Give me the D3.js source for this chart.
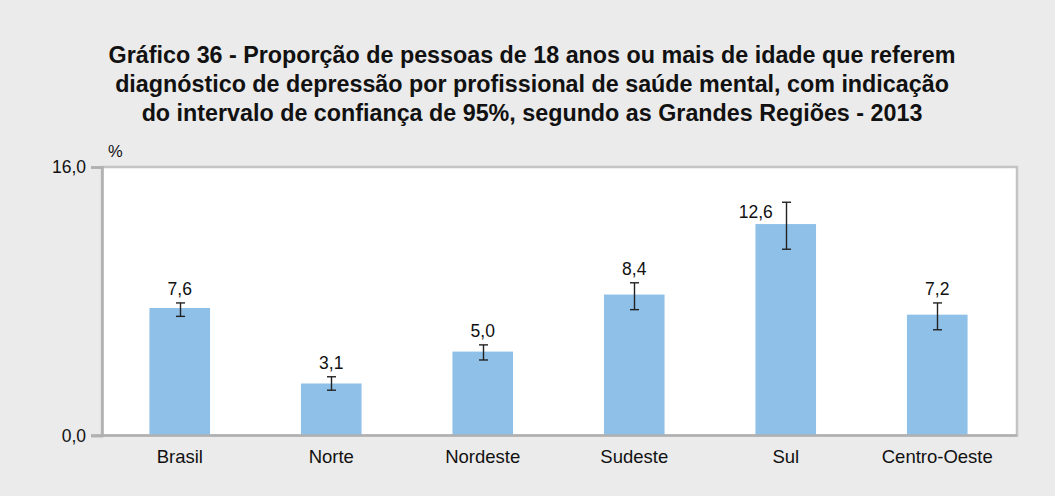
<!DOCTYPE html>
<html>
<head>
<meta charset="utf-8">
<script src="https://cdn.jsdelivr.net/npm/d3@7"></script>
<style>
  html, body { margin: 0; padding: 0; background: #ebebeb; }
  svg { display: block; }
  text { font-family: "Liberation Sans", Arial, sans-serif; fill: #111; }
</style>
</head>
<body>
<svg id="chart" width="1055" height="496"></svg>
<script>
// Regions and estimated proportions (%), with 95% confidence limits
const regions = ["Brasil", "Norte", "Nordeste", "Sudeste", "Sul", "Centro-Oeste"];
const values = [7.6, 3.1, 5.0, 8.4, 12.6, 7.2];
const lowerCI = [7.1, 2.7, 4.5, 7.5, 11.1, 6.3];
const upperCI = [7.9, 3.5, 5.4, 9.1, 13.9, 7.9];
const yTicks = [0, 16];
const titleLines = [
  "Gráfico 36 - Proporção de pessoas de 18 anos ou mais de idade que referem",
  "diagnóstico de depressão por profissional de saúde mental, com indicação",
  "do intervalo de confiança de 95%, segundo as Grandes Regiões - 2013"
];

const fmt = v => d3.format(".1f")(v).replace(".", ",");
// labels that sit beside the error bar instead of above it
const sideLabels = new Set(["Sul"]);

const svg = d3.select("#chart");
const W = 1055, H = 496;
const plot = { left: 102, right: 1017, top: 167, bottom: 435.5 };

svg.append("rect").attr("width", W).attr("height", H).attr("fill", "#ebebeb");

// Title
svg.append("g").selectAll("text").data(titleLines).join("text")
  .attr("x", 532).attr("y", (d, i) => 63 + i * 29)
  .attr("text-anchor", "middle")
  .style("font-weight", "bold").style("font-size", "23.3px")
  .text(d => d);

const x = d3.scaleBand().domain(regions).range([plot.left + 2, plot.right - 4]).padding(0);
const barW = x.bandwidth() * 0.4;
const cxOf = d => x(d) + x.bandwidth() / 2;
const y = d3.scaleLinear().domain([0, 16]).range([plot.bottom, plot.top]);

// Plot area
svg.append("rect")
  .attr("x", plot.left).attr("y", plot.top)
  .attr("width", plot.right - plot.left).attr("height", plot.bottom - plot.top)
  .attr("fill", "#fff").attr("stroke", "#c4c4c4").attr("stroke-width", 2.5);

// Bars
svg.append("g").selectAll("rect").data(regions).join("rect")
  .attr("x", d => cxOf(d) - barW / 2).attr("width", barW)
  .attr("y", (d, i) => y(values[i]))
  .attr("height", (d, i) => y(0) - y(values[i]))
  .attr("fill", "#8fc0e8");

// Error bars
const eb = svg.append("g").attr("stroke", "#222").attr("stroke-width", 1.4);
regions.forEach((r, i) => {
  const cx = Math.round(cxOf(r)) + 0.5;
  eb.append("line").attr("x1", cx).attr("x2", cx).attr("y1", y(lowerCI[i])).attr("y2", y(upperCI[i]));
  [lowerCI[i], upperCI[i]].forEach(v =>
    eb.append("line").attr("x1", cx - 4.5).attr("x2", cx + 4.5).attr("y1", y(v)).attr("y2", y(v)));
});

// Value labels
svg.append("g").selectAll("text").data(regions).join("text")
  .attr("x", d => cxOf(d) - (sideLabels.has(d) ? 13 : 0))
  .attr("y", (d, i) => sideLabels.has(d) ? y(values[i]) - 6 : y(upperCI[i]) - 8)
  .attr("text-anchor", d => sideLabels.has(d) ? "end" : "middle")
  .style("font-size", "17.5px")
  .text((d, i) => fmt(values[i]));

// Axes
const yAxis = d3.axisLeft(y).tickValues(yTicks).tickFormat(fmt).tickSize(11).tickPadding(5);
const gy = svg.append("g").attr("transform", `translate(${plot.left},0)`).call(yAxis);
gy.select(".domain").attr("stroke", "#b0b0b0").attr("stroke-width", 2.5);
gy.selectAll(".tick line").attr("stroke", "#b0b0b0").attr("stroke-width", 2.5);
gy.selectAll(".tick text").style("font-size", "17.5px").attr("fill", "#111")
  .style("font-family", "'Liberation Sans', Arial, sans-serif");

const xAxis = d3.axisBottom(x).tickSize(0).tickPadding(14);
const gx = svg.append("g").attr("transform", `translate(0,${plot.bottom})`).call(xAxis);
gx.select(".domain").attr("stroke", "#b0b0b0").attr("stroke-width", 2.5)
  .attr("d", `M${plot.left - 11},0H${plot.right}`);
gx.selectAll(".tick text").style("font-size", "18.5px").attr("fill", "#111")
  .style("font-family", "'Liberation Sans', Arial, sans-serif");

// Unit
svg.append("text").attr("x", 108).attr("y", 157).style("font-size", "16.5px").text("%");
</script>
</body>
</html>
